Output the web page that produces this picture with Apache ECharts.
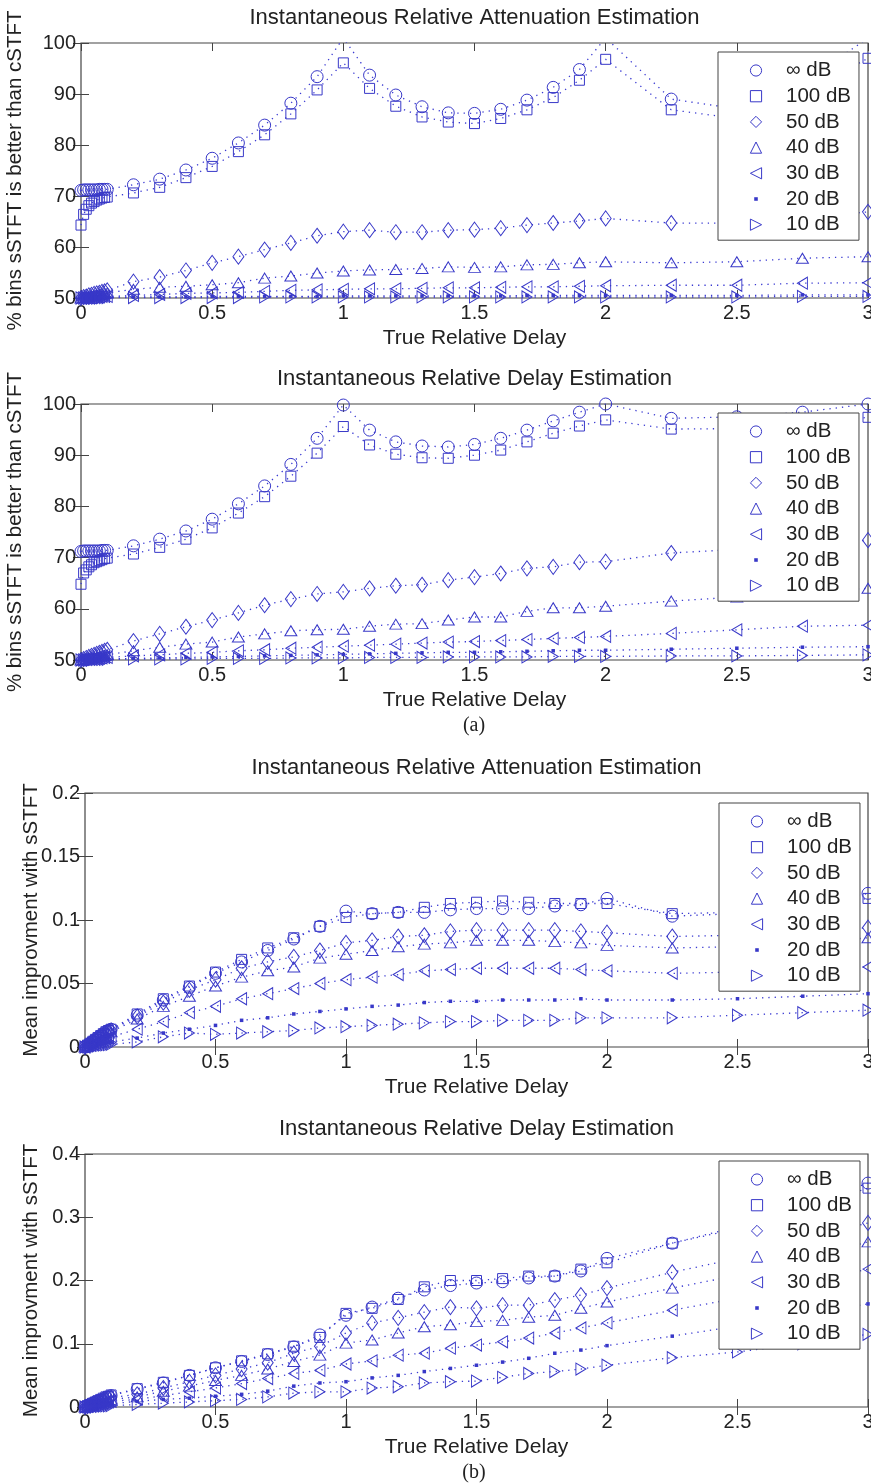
<!DOCTYPE html>
<html><head><meta charset="utf-8">
<script src="https://cdn.jsdelivr.net/npm/echarts/dist/echarts.min.js"></script>
<style>html,body{margin:0;padding:0;background:#fff}#c{width:871px;height:1484px}</style>
</head><body><div id="c"></div>
<script>
// ---------------- data ----------------
const xs = [0,0.01,0.02,0.03,0.04,0.05,0.06,0.07,0.08,0.09,0.1,0.2,0.3,0.4,0.5,0.6,0.7,0.8,0.9,1,1.1,1.2,1.3,1.4,1.5,1.6,1.7,1.8,1.9,2,2.25,2.5,2.75,3];
const seriesNames = ['∞ dB','100 dB','50 dB','40 dB','30 dB','20 dB','10 dB'];
const xTicks = [0,0.5,1,1.5,2,2.5,3];

// (a) top: attenuation, % bins
const attPctInf = [71.1,71.2,71.2,71.2,71.2,71.2,71.2,71.3,71.3,71.3,71.3,72.2,73.3,75.1,77.4,80.4,83.9,88.2,93.4,101,93.7,89.8,87.5,86.3,86.2,87.0,88.8,91.3,94.8,101,89.0,87.1,92.0,101];
const attPct100 = [64.3,66.4,67.4,68.1,68.6,68.9,69.2,69.4,69.6,69.7,69.8,70.6,71.7,73.6,75.8,78.7,82.0,86.1,90.8,96.1,91.1,87.6,85.5,84.5,84.2,85.2,86.9,89.3,92.7,96.8,86.9,85.2,90.0,97.0];
const attPct50 = [50.0,50.2,50.3,50.5,50.6,50.8,50.9,51.0,51.2,51.3,51.5,53.2,54.1,55.4,56.9,58.1,59.5,60.8,62.2,63.0,63.3,62.9,62.9,63.3,63.4,63.7,64.3,64.7,65.1,65.6,64.7,64.7,65.5,66.9];
const attPct40 = [50.0,50.1,50.2,50.3,50.4,50.5,50.6,50.7,50.8,50.9,51.0,51.7,52.1,52.3,52.6,53.0,53.9,54.3,54.9,55.3,55.5,55.6,55.8,56.1,56.0,56.1,56.5,56.6,56.9,57.1,56.9,57.1,57.8,58.1];
const attPct30 = [50.0,50.0,50.1,50.1,50.1,50.2,50.2,50.2,50.3,50.3,50.3,50.5,50.7,50.9,51.0,51.1,51.3,51.5,51.6,51.7,51.8,51.8,51.9,52.0,52.0,52.1,52.2,52.2,52.3,52.4,52.5,52.5,52.9,53.0];
const attPct20 = [50.0,50.0,50.0,50.0,50.1,50.1,50.1,50.1,50.1,50.1,50.1,50.2,50.2,50.2,50.3,50.3,50.3,50.3,50.3,50.4,50.4,50.4,50.4,50.4,50.4,50.4,50.5,50.5,50.5,50.5,50.5,50.5,50.6,50.6];
const attPct10 = [50.0,50.0,50.0,50.0,50.0,50.0,50.0,50.0,50.1,50.1,50.1,50.1,50.1,50.1,50.1,50.1,50.2,50.2,50.2,50.2,50.2,50.2,50.2,50.2,50.2,50.2,50.2,50.2,50.2,50.2,50.2,50.2,50.3,50.3];

// (a) bottom: delay, % bins
const delPctInf = [71.2,71.3,71.3,71.3,71.3,71.3,71.3,71.3,71.4,71.4,71.4,72.3,73.6,75.2,77.5,80.5,84.0,88.2,93.3,99.8,94.9,92.6,91.8,91.6,92.1,93.3,94.9,96.7,98.4,100,97.2,97.5,98.4,100];
const delPct100 = [64.8,67.0,67.6,68.2,68.6,69.0,69.2,69.4,69.6,69.8,69.9,70.7,72.0,73.6,75.8,78.7,81.9,85.9,90.4,95.6,92.0,90.2,89.5,89.4,90.0,91.0,92.6,94.3,95.7,96.9,95.1,95.2,96.0,97.4];
const delPct50 = [50.0,50.2,50.4,50.6,50.8,51.0,51.2,51.4,51.6,51.8,52.0,53.7,55.1,56.5,57.8,59.2,60.7,61.9,62.9,63.3,64.0,64.5,64.7,65.6,66.2,66.9,67.9,68.2,69.1,69.2,70.9,71.6,72.5,73.4];
const delPct40 = [50.0,50.1,50.2,50.3,50.4,50.5,50.6,50.7,50.8,50.9,51.0,51.8,52.5,53.1,53.5,54.5,55.1,55.7,55.9,56.0,56.6,57.0,57.1,57.8,58.4,58.4,59.5,60.2,60.2,60.5,61.5,62.3,63.1,64.0];
const delPct30 = [50.0,50.1,50.1,50.2,50.2,50.3,50.3,50.4,50.4,50.5,50.5,50.8,51.0,51.3,51.5,51.8,52.0,52.3,52.5,52.7,52.9,53.1,53.3,53.5,53.6,53.8,54.0,54.2,54.4,54.6,55.2,55.9,56.6,56.8];
const delPct20 = [50.0,50.0,50.0,50.1,50.1,50.1,50.1,50.2,50.2,50.2,50.2,50.3,50.4,50.5,50.6,50.7,50.8,50.9,51.0,51.1,51.2,51.3,51.4,51.5,51.5,51.6,51.7,51.8,51.9,51.9,52.1,52.3,52.5,52.6];
const delPct10 = [50.0,50.0,50.0,50.0,50.0,50.1,50.1,50.1,50.1,50.1,50.1,50.2,50.2,50.2,50.3,50.3,50.3,50.4,50.4,50.4,50.5,50.5,50.5,50.6,50.6,50.6,50.6,50.7,50.7,50.7,50.8,50.8,50.9,51.0];

// (b) top: attenuation, mean improvement
const attImpInf = [0,0.0015,0.003,0.0045,0.006,0.0075,0.009,0.0105,0.012,0.013,0.014,0.025,0.037,0.047,0.058,0.067,0.076,0.085,0.095,0.107,0.105,0.106,0.106,0.108,0.109,0.109,0.109,0.111,0.112,0.117,0.103,0.105,0.110,0.121];
const attImp100 = [0,0.0015,0.003,0.0045,0.006,0.0075,0.009,0.0105,0.012,0.013,0.014,0.026,0.038,0.048,0.059,0.069,0.078,0.086,0.095,0.102,0.105,0.106,0.110,0.113,0.114,0.115,0.114,0.113,0.113,0.113,0.105,0.106,0.110,0.117];
const attImp50 = [0,0.0014,0.0028,0.004,0.0054,0.0068,0.008,0.0094,0.011,0.012,0.013,0.024,0.035,0.045,0.053,0.062,0.067,0.071,0.076,0.082,0.084,0.087,0.088,0.091,0.092,0.092,0.092,0.092,0.091,0.090,0.087,0.088,0.090,0.094];
const attImp40 = [0,0.0012,0.0025,0.0037,0.005,0.006,0.0073,0.0085,0.0097,0.011,0.012,0.022,0.032,0.040,0.048,0.055,0.060,0.063,0.070,0.073,0.076,0.079,0.081,0.082,0.084,0.084,0.084,0.083,0.082,0.080,0.078,0.079,0.081,0.086];
const attImp30 = [0,0.0008,0.0016,0.0024,0.0032,0.004,0.0048,0.0056,0.0064,0.0072,0.008,0.014,0.020,0.027,0.032,0.038,0.042,0.046,0.050,0.053,0.055,0.057,0.060,0.061,0.062,0.062,0.062,0.062,0.061,0.060,0.058,0.059,0.061,0.063];
const attImp20 = [0,0.0004,0.0008,0.0012,0.0016,0.002,0.0024,0.0028,0.0032,0.0036,0.004,0.007,0.011,0.014,0.017,0.021,0.023,0.026,0.028,0.030,0.032,0.033,0.035,0.036,0.036,0.037,0.037,0.037,0.038,0.037,0.037,0.038,0.040,0.042];
const attImp10 = [0,0.0002,0.0004,0.0006,0.0008,0.001,0.0012,0.0014,0.0016,0.0018,0.002,0.004,0.008,0.011,0.010,0.011,0.012,0.013,0.015,0.016,0.017,0.018,0.019,0.020,0.020,0.021,0.021,0.021,0.023,0.023,0.023,0.025,0.027,0.029];

// (b) bottom: delay, mean improvement
const delImpInf = [0,0.002,0.004,0.006,0.008,0.009,0.011,0.013,0.015,0.016,0.018,0.028,0.038,0.050,0.062,0.072,0.083,0.095,0.114,0.145,0.158,0.172,0.185,0.192,0.196,0.198,0.204,0.207,0.215,0.235,0.259,0.285,0.318,0.354];
const delImp100 = [0,0.002,0.004,0.006,0.008,0.010,0.012,0.014,0.016,0.017,0.019,0.029,0.039,0.050,0.062,0.073,0.084,0.096,0.110,0.148,0.156,0.170,0.190,0.200,0.200,0.203,0.207,0.207,0.218,0.228,0.259,0.282,0.313,0.346];
const delImp50 = [0,0.0015,0.003,0.0045,0.006,0.0075,0.009,0.0105,0.012,0.0135,0.015,0.020,0.030,0.040,0.050,0.060,0.070,0.085,0.096,0.117,0.133,0.141,0.150,0.158,0.156,0.161,0.161,0.169,0.177,0.188,0.213,0.235,0.265,0.291];
const delImp40 = [0,0.0012,0.0024,0.0036,0.0048,0.006,0.0072,0.0084,0.0096,0.0108,0.012,0.016,0.025,0.033,0.042,0.050,0.060,0.072,0.082,0.101,0.106,0.117,0.127,0.130,0.135,0.137,0.142,0.145,0.156,0.166,0.188,0.208,0.235,0.261];
const delImp30 = [0,0.0009,0.0018,0.0027,0.0036,0.0045,0.0054,0.0063,0.0072,0.0081,0.009,0.012,0.018,0.024,0.030,0.037,0.045,0.053,0.058,0.068,0.073,0.082,0.085,0.093,0.098,0.103,0.109,0.117,0.125,0.133,0.153,0.172,0.195,0.218];
const delImp20 = [0,0.0005,0.001,0.0015,0.002,0.0025,0.003,0.0035,0.004,0.0045,0.005,0.009,0.012,0.014,0.017,0.020,0.025,0.033,0.038,0.040,0.046,0.050,0.056,0.061,0.066,0.071,0.077,0.085,0.090,0.097,0.112,0.128,0.146,0.163];
const delImp10 = [0,0.0002,0.0004,0.0006,0.0008,0.001,0.0012,0.0014,0.0016,0.0018,0.002,0.004,0.006,0.008,0.010,0.012,0.016,0.022,0.024,0.024,0.030,0.032,0.038,0.040,0.041,0.047,0.053,0.056,0.060,0.066,0.078,0.087,0.100,0.115];

const panelTitles = ['Instantaneous Relative Attenuation Estimation','Instantaneous Relative Delay Estimation','Instantaneous Relative Attenuation Estimation','Instantaneous Relative Delay Estimation'];
const yNames = ['% bins sSTFT is better than cSTFT','% bins sSTFT is better than cSTFT','Mean improvment with sSTFT','Mean improvment with sSTFT'];
const xName = 'True Relative Delay';
const yRanges = [[50,100,10],[50,100,10],[0,0.2,0.05],[0,0.4,0.1]];
const panelData = [
  [attPctInf,attPct100,attPct50,attPct40,attPct30,attPct20,attPct10],
  [delPctInf,delPct100,delPct50,delPct40,delPct30,delPct20,delPct10],
  [attImpInf,attImp100,attImp50,attImp40,attImp30,attImp20,attImp10],
  [delImpInf,delImp100,delImp50,delImp40,delImp30,delImp20,delImp10]
];

// ---------------- style / layout ----------------
const BLUE = '#3838c8';
const LINE = '#3a3ad2';
const FONT = '"Liberation Sans", Arial, Helvetica, sans-serif';
const AX = '#444';
const DOT = 'path://M0,0M10,10M3.4,3.4L6.6,3.4L6.6,6.6L3.4,6.6Z';
const symbols = ['circle','rect','diamond','triangle','triangle',DOT,'triangle'];
const symRot = [0,0,0,0,90,0,-90];
const symSize = [12,10,[11,15],[12,10],[12,10],11,[12,10]];

const grids = [
  {left:81, top:43, width:787, height:255},
  {left:81, top:404, width:787, height:256},
  {left:85, top:793, width:783, height:254},
  {left:85, top:1154, width:783, height:253}
];
const yNameGap = [55,55,43,43];
const legendTops = [52,413,803,1161];
const legendLefts = [718,718,719,719];

const option = {
  animation:false,
  backgroundColor:'#fff',
  grid: grids.map(g => Object.assign({show:true, borderColor:AX, borderWidth:1.2, backgroundColor:'transparent', containLabel:false, outerBoundsMode:'none'}, g)),
  xAxis: [], yAxis: [], series: [], legend: [], graphic: []
};

grids.forEach((g, gi) => {
  const [ymin, ymax, yint] = yRanges[gi];
  option.xAxis.push({
    type:'value', gridIndex:gi, min:0, max:3, interval:0.5, position:'bottom',
    name:xName, nameLocation:'middle', nameGap:30, nameMoveOverlap:false,
    nameTextStyle:{fontFamily:FONT, fontSize:21, color:'#222'},
    axisLine:{show:false}, splitLine:{show:false},
    axisTick:{show:true, inside:true, length:8, lineStyle:{color:AX, width:1}},
    axisLabel:{fontFamily:FONT, fontSize:20, color:'#222', margin:5, showMinLabel:true, showMaxLabel:true, hideOverlap:false}
  });
  option.xAxis.push({
    type:'value', gridIndex:gi, min:0, max:3, interval:0.5, position:'top',
    axisLine:{show:false}, splitLine:{show:false}, axisLabel:{show:false},
    axisTick:{show:true, inside:true, length:8, lineStyle:{color:AX, width:1}}
  });
  option.yAxis.push({
    type:'value', gridIndex:gi, min:ymin, max:ymax, interval:yint, position:'left',
    name:yNames[gi], nameLocation:'middle', nameGap:yNameGap[gi], nameRotate:90, nameMoveOverlap:false,
    nameTextStyle:{fontFamily:FONT, fontSize:20.5, color:'#222'},
    axisLine:{show:false}, splitLine:{show:false},
    axisTick:{show:true, inside:true, length:8, lineStyle:{color:AX, width:1}},
    axisLabel:{fontFamily:FONT, fontSize:20, color:'#222', margin:5, showMinLabel:true, showMaxLabel:true, hideOverlap:false}
  });
  option.yAxis.push({
    type:'value', gridIndex:gi, min:ymin, max:ymax, interval:yint, position:'right',
    axisLine:{show:false}, splitLine:{show:false}, axisLabel:{show:false},
    axisTick:{show:true, inside:true, length:8, lineStyle:{color:AX, width:1}}
  });

  seriesNames.forEach((nm, si) => {
    const vals = panelData[gi][si];
    const isDot = si === 5;
    option.series.push({
      type:'line', name:nm, xAxisIndex:gi*2, yAxisIndex:gi*2,
      data: xs.map((x, k) => [x, vals[k]]),
      symbol: symbols[si], symbolSize: symSize[si], symbolRotate: symRot[si],
      showSymbol:true, showAllSymbol:true, clip:true, silent:true,
      lineStyle:{color:LINE, width:1.3, type:[1.3,5]},
      itemStyle: isDot ? {color:BLUE, borderWidth:0} : {color:'rgba(0,0,0,0)', borderColor:BLUE, borderWidth:1},
      emphasis:{disabled:true}
    });
  });

  option.legend.push({
    data: seriesNames.slice(),
    orient:'vertical', left:legendLefts[gi], top:legendTops[gi],
    padding:[8,8,5,12], itemGap:4.7, itemWidth:50, itemHeight:14,
    backgroundColor:'#fff', borderColor:AX, borderWidth:1, borderRadius:0,
    selectedMode:false,
    textStyle:{fontFamily:FONT, fontSize:20.5, color:'#222', lineHeight:20},
    lineStyle:{color:'rgba(0,0,0,0)'},
    itemStyle:{borderWidth:1}
  });

  const g0 = grids[gi];
  option.graphic.push({
    type:'text', x: g0.left + g0.width/2, y: g0.top - 25,
    style:{text:panelTitles[gi], font:'22px ' + FONT, fill:'#222', textAlign:'center', textVerticalAlign:'middle', align:'center', verticalAlign:'middle'}
  });
});

option.graphic.push({type:'text', x:474, y:726, style:{text:'(a)', font:'20px "Liberation Serif", "Times New Roman", serif', fill:'#222', textAlign:'center', textVerticalAlign:'middle', align:'center', verticalAlign:'middle'}});
option.graphic.push({type:'text', x:474, y:1473, style:{text:'(b)', font:'20px "Liberation Serif", "Times New Roman", serif', fill:'#222', textAlign:'center', textVerticalAlign:'middle', align:'center', verticalAlign:'middle'}});

const chart = echarts.init(document.getElementById('c'), null, {renderer:'canvas'});
chart.setOption(option);
</script>
</body></html>
